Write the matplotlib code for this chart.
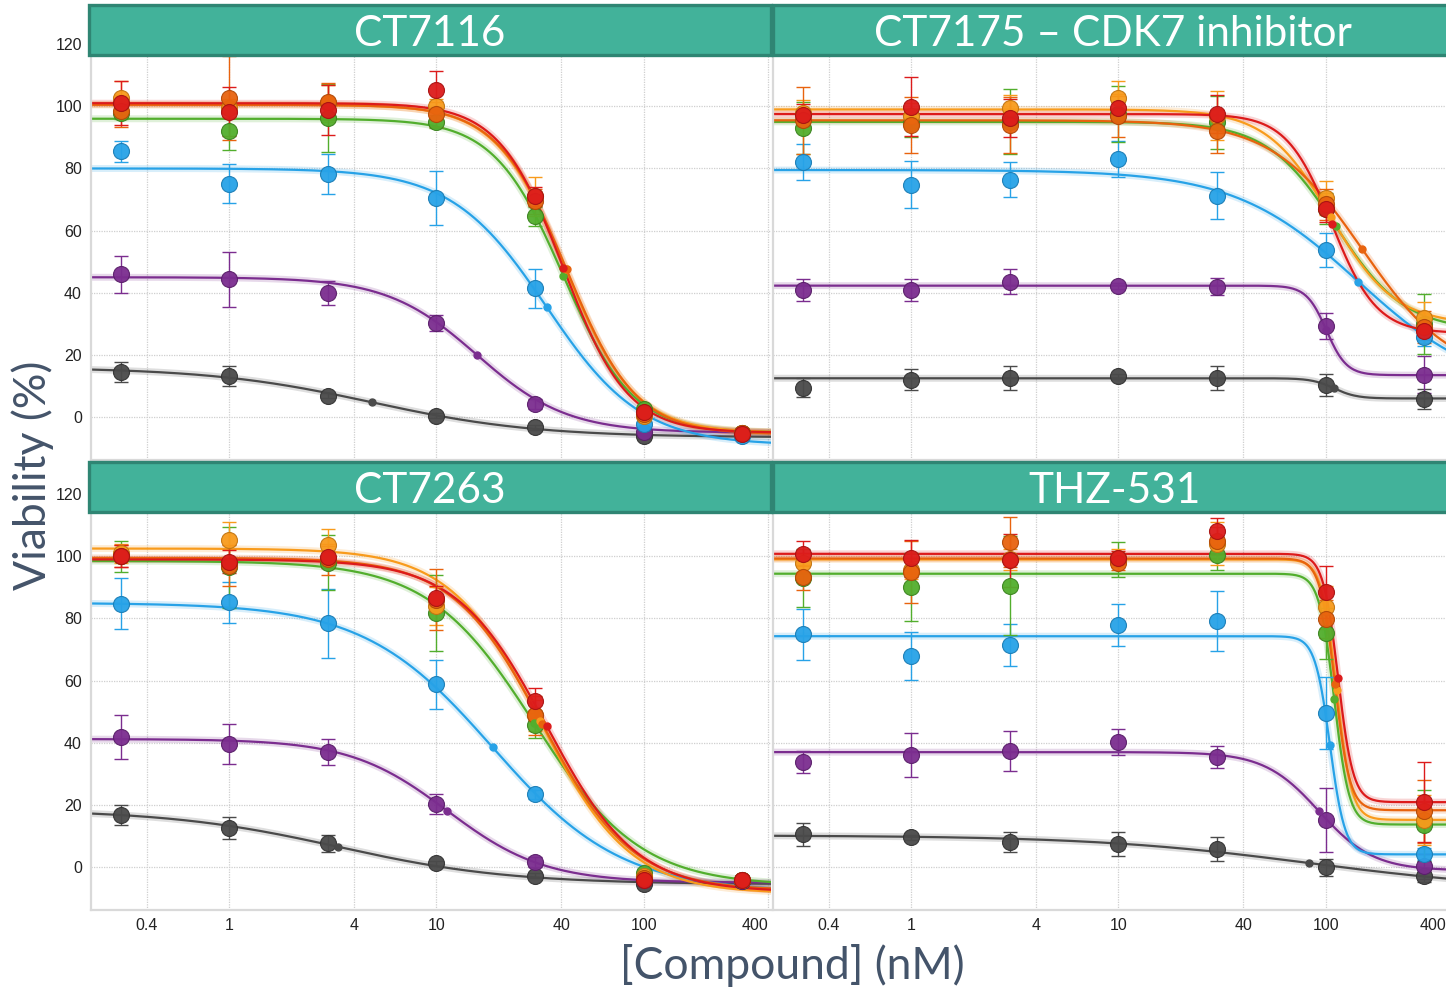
import numpy as np
import matplotlib
matplotlib.use("Agg")
import matplotlib.pyplot as plt
from matplotlib.patches import Rectangle
from matplotlib.ticker import FixedLocator, NullLocator
from matplotlib.transforms import ScaledTranslation

# doses (nM) and tick marks
doses = [0.3, 1, 3, 10, 30, 100, 300]
xticks = [0.4, 1, 4, 10, 40, 100, 400]
xticklabels = ["0.4", "1", "4", "10", "40", "100", "400"]
yticks = [0, 20, 40, 60, 80, 100, 120]

# series order: gray, purple, blue, green, yellow, orange, red
colors = ["#4a4a4a", "#7b2d8f", "#27a2e7", "#52ae2d", "#f89b1c", "#e8630e", "#dc1b1b"]
edges = ["#333333", "#5a1f6a", "#1b7db5", "#3c8420", "#c27512", "#b24a08", "#a81212"]

titles = ["CT7116", "CT7175 \u2013 CDK7 inhibitor", "CT7263", "THZ-531"]

# ---- CT7116 ----
ct7116_y = [
    [14.5, 13.1, 6.8, 0.4, -3.3, -6.2, -5.5],
    [45.9, 44.3, 40.0, 30.2, 4.2, -4.8, -5.0],
    [85.5, 75.1, 78.3, 70.5, 41.4, -2.2, -6.0],
    [97.8, 91.9, 96.2, 95.1, 64.6, 2.6, -5.0],
    [102.6, 99.5, 101.0, 100.2, 71.0, 0.5, -5.0],
    [98.5, 102.6, 101.5, 97.4, 69.5, 1.0, -5.0],
    [101.0, 98.3, 98.9, 105.1, 71.0, 1.6, -5.5],
]
ct7116_err = [
    [3.3, 3.2, 0.8, 0.8, 0.8, 0.8, 0.8],
    [5.9, 8.9, 3.8, 2.5, 1.5, 1.0, 1.0],
    [3.4, 6.3, 6.5, 8.6, 6.3, 1.0, 1.0],
    [2.0, 5.9, 11.0, 2.0, 3.0, 1.0, 1.0],
    [5.5, 3.0, 6.0, 2.0, 6.4, 1.0, 1.0],
    [5.0, 13.6, 6.0, 4.0, 4.0, 1.0, 1.0],
    [7.0, 8.0, 8.0, 6.4, 3.0, 1.0, 1.0],
]
# fitted curve: top, bottom, IC50, hill
ct7116_fit = [
    [16.0, -6.5, 4.9, 1.1],
    [45.0, -5.0, 15.7, 2.0],
    [80.0, -9.0, 34.0, 1.9],
    [96.0, -5.0, 41.0, 2.6],
    [100.5, -5.0, 42.0, 2.6],
    [100.5, -5.5, 42.5, 2.6],
    [101.0, -5.0, 41.0, 2.8],
]

# ---- CT7175 ----
ct7175_y = [
    [9.5, 12.1, 12.6, 13.1, 12.6, 10.4, 5.8],
    [40.8, 40.8, 43.6, 42.2, 42.0, 29.3, 13.7],
    [82.1, 74.8, 76.4, 83.1, 71.3, 53.7, 25.9],
    [93.0, 94.5, 95.0, 97.5, 94.8, 67.0, 30.0],
    [98.0, 97.0, 99.5, 102.7, 97.0, 70.5, 32.0],
    [95.5, 94.0, 94.0, 97.0, 91.9, 68.5, 29.0],
    [97.1, 99.9, 96.2, 99.4, 97.5, 66.8, 27.7],
]
ct7175_err = [
    [3.1, 3.4, 4.0, 0.8, 4.0, 3.6, 3.1],
    [3.5, 3.5, 3.9, 1.0, 2.6, 4.2, 5.9],
    [5.8, 7.5, 5.6, 5.7, 7.5, 5.5, 3.0],
    [8.5, 4.5, 10.5, 9.0, 8.5, 5.0, 9.6],
    [4.0, 4.0, 4.0, 5.5, 8.0, 5.5, 5.0],
    [10.7, 9.0, 9.0, 7.0, 7.0, 5.0, 5.0],
    [3.5, 9.6, 6.0, 4.0, 6.0, 4.0, 3.0],
]
ct7175_fit = [
    [12.5, 6.0, 110.0, 8.0],
    [42.3, 13.5, 101.0, 9.0],
    [79.5, 7.7, 144.0, 1.45],
    [95.0, 27.8, 112.0, 2.6],
    [99.0, 29.8, 106.0, 2.8],
    [95.5, 12.7, 150.0, 2.0],
    [97.5, 27.0, 107.0, 4.0],
]

# ---- CT7263 ----
ct7263_y = [
    [16.8, 12.6, 7.6, 1.3, -2.7, -5.4, -4.5],
    [41.9, 39.6, 37.1, 20.3, 1.6, -4.0, -4.5],
    [84.8, 85.2, 78.4, 58.8, 23.4, -3.0, -4.0],
    [100.0, 96.5, 98.0, 81.8, 45.6, -2.0, -4.0],
    [101.0, 105.4, 103.7, 84.0, 48.8, -3.0, -4.0],
    [100.0, 97.0, 99.0, 86.0, 48.8, -3.5, -4.0],
    [100.2, 98.3, 99.7, 86.5, 53.6, -4.3, -4.3],
]
ct7263_err = [
    [3.3, 3.5, 2.6, 0.8, 0.8, 0.8, 0.8],
    [7.0, 6.3, 4.2, 3.2, 1.5, 1.0, 1.0],
    [8.1, 6.5, 11.0, 7.9, 1.5, 1.0, 1.0],
    [5.0, 13.0, 9.0, 12.2, 4.0, 1.0, 1.0],
    [3.0, 5.6, 5.0, 6.0, 5.0, 1.0, 1.0],
    [3.5, 6.5, 5.0, 9.8, 6.4, 1.0, 1.0],
    [3.5, 3.7, 3.5, 4.0, 4.0, 1.0, 1.0],
]
ct7263_fit = [
    [18.5, -5.5, 3.37, 1.05],
    [41.2, -5.0, 11.3, 1.85],
    [85.0, -8.0, 18.7, 1.4],
    [98.5, -6.0, 29.7, 1.7],
    [102.5, -8.5, 31.6, 2.0],
    [99.5, -7.5, 32.5, 2.0],
    [99.0, -8.0, 34.0, 2.0],
]

# ---- THZ-531 ----
thz531_y = [
    [10.5, 9.6, 8.0, 7.5, 5.9, 0.0, -2.7],
    [33.9, 36.1, 37.4, 40.2, 35.4, 15.3, 0.3],
    [74.9, 67.9, 71.5, 77.8, 79.1, 49.6, 4.3],
    [93.0, 90.2, 90.6, 99.0, 100.5, 75.2, 13.4],
    [97.9, 95.6, 99.0, 99.5, 104.0, 83.6, 15.2],
    [93.2, 95.0, 104.5, 98.0, 105.0, 79.8, 17.9],
    [100.9, 99.4, 98.7, 99.6, 108.0, 88.4, 20.9],
]
thz531_err = [
    [3.6, 0.8, 3.2, 3.9, 3.8, 2.7, 2.0],
    [3.6, 7.1, 6.5, 4.2, 3.6, 10.3, 4.0],
    [8.3, 7.6, 6.7, 6.7, 9.6, 11.6, 2.0],
    [9.4, 11.0, 16.0, 5.6, 5.0, 8.2, 11.5],
    [3.0, 3.0, 3.5, 3.0, 6.9, 7.0, 8.0],
    [4.0, 10.0, 8.0, 2.5, 4.5, 6.0, 10.0],
    [3.9, 5.9, 8.5, 2.0, 4.3, 8.4, 12.9],
]
thz531_fit = [
    [10.2, -7.6, 83.4, 0.83],
    [37.0, -1.1, 93.0, 3.3],
    [74.3, 4.1, 105.0, 12.0],
    [94.4, 13.7, 110.0, 12.0],
    [99.0, 15.2, 113.0, 12.0],
    [99.3, 18.3, 111.0, 12.0],
    [100.8, 20.9, 115.0, 12.0],
]

W, H = 1446, 994
fig = plt.figure(figsize=(W / 100, H / 100), dpi=100)

XMIN, XMAX = 0.2154, 412
YMIN, YMAX = -13.8, 125
label_col = "#44546a"
tick_font = "Liberation Sans"
head_font = "Lato"


def px(x0, y0, w, h):
    # pixel box (top-left origin) -> figure fraction
    return [x0 / W, 1 - (y0 + h) / H, w / W, h / H]


def logistic(x, top, bottom, ic50, hill):
    return bottom + (top - bottom) / (1 + (x / ic50) ** hill)


panels = [
    (ct7116_y, ct7116_err, ct7116_fit, px(91, 28.6, 680, 431.4), True, False),
    (ct7175_y, ct7175_err, ct7175_fit, px(773, 28.6, 680, 431.4), False, False),
    (ct7263_y, ct7263_err, ct7263_fit, px(91, 478.6, 680, 431.4), True, True),
    (thz531_y, thz531_err, thz531_fit, px(773, 478.6, 680, 431.4), False, True),
]

xx = np.logspace(np.log10(XMIN), np.log10(XMAX), 400)

for vals, errs, fits, box, show_y, show_x in panels:
    ax = fig.add_axes(box)
    ax.set_xscale("log")
    ax.set_xlim(XMIN, XMAX)
    ax.set_ylim(YMIN, YMAX)
    ax.xaxis.set_major_locator(FixedLocator(xticks))
    ax.xaxis.set_minor_locator(NullLocator())
    ax.set_yticks(yticks)
    ax.grid(True, color="#cfcfcf", linestyle=(0, (1, 1)), linewidth=0.9)
    ax.set_axisbelow(True)
    for s in ["top", "right"]:
        ax.spines[s].set_visible(False)
    ax.spines["left"].set_color("#d9d9d9")
    ax.spines["left"].set_linewidth(1.6)
    ax.spines["bottom"].set_color("#d9d9d9")
    ax.spines["bottom"].set_linewidth(1.6)
    ax.tick_params(length=0, labelsize=11.5, labelcolor="#222222")
    ax.tick_params(axis="y", pad=6.5)
    ax.tick_params(axis="x", pad=6)
    if show_x:
        ax.set_xticklabels(xticklabels, fontfamily=tick_font)
        last = ax.get_xticklabels()[-1]
        last.set_horizontalalignment("right")
        if not show_y:
            # keep the last label inside the picture edge
            last.set_transform(last.get_transform()
                               + ScaledTranslation(-4 / 100, 0, fig.dpi_scale_trans))
    else:
        ax.set_xticklabels([])
    if show_y:
        ax.set_yticklabels([str(v) for v in yticks], fontfamily=tick_font)
    else:
        ax.set_yticklabels([])

    for i in range(len(vals)):
        top, bottom, ic50, hill = fits[i]
        yy = logistic(xx, top, bottom, ic50, hill)
        ax.plot(xx, yy, color=colors[i], lw=5, alpha=0.18, zorder=2, solid_capstyle="round")
        ax.plot(xx, yy, color=colors[i], lw=1.6, zorder=2.1)
    for i in range(len(vals)):
        ax.errorbar(doses, vals[i], yerr=errs[i], fmt="none", ecolor=colors[i],
                    elinewidth=1.0, capsize=4.8, capthick=1.0, zorder=3)
    for i in range(len(vals)):
        ax.plot(doses, vals[i], "o", ms=11.5, mfc=colors[i], mec=edges[i],
                mew=0.8, alpha=0.95, zorder=4)
        top, bottom, ic50, hill = fits[i]
        ax.plot(ic50, logistic(ic50, top, bottom, ic50, hill), "o", ms=5,
                mfc=colors[i], mec=colors[i], zorder=5)

# panel headers
head_face = "#42b29a"
head_edge = "#2f8573"
headers = [(89, 5, 682, 50), (773, 5, 690, 50), (89, 462, 682, 50), (773, 462, 690, 50)]
text_pos = [(430, 46), (1113, 46), (430, 503), (1115, 503)]
for (x0, y0, w, h), (tx, ty), t in zip(headers, text_pos, titles):
    fig.patches.append(Rectangle((x0 / W, 1 - (y0 + h) / H), w / W, h / H,
                                 transform=fig.transFigure, facecolor=head_face,
                                 edgecolor=head_edge, linewidth=2.4, zorder=10))
    fig.text(tx / W, 1 - ty / H, t, color="white", fontsize=30.5, fontfamily=head_font,
             ha="center", va="baseline", zorder=11)

fig.text(792 / W, 1 - 979 / H, "[Compound] (nM)", color=label_col, fontsize=32,
         fontfamily=head_font, ha="center", va="baseline")
fig.text(33 / W, 1 - 475 / H, "Viability (%)", color=label_col, fontsize=32,
         fontfamily=head_font, rotation=90, ha="center", va="center")

fig.savefig("out.png", dpi=100)
